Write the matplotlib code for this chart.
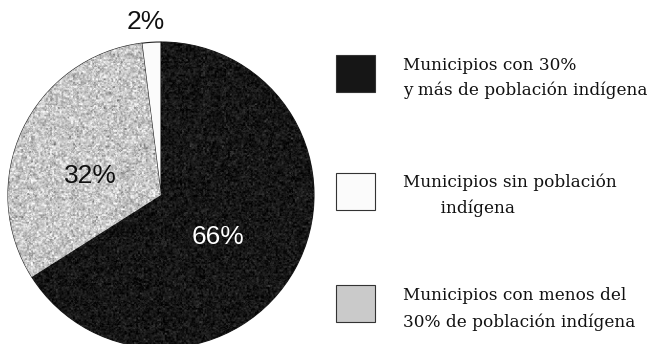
import numpy as np
import matplotlib
matplotlib.use("Agg")
import matplotlib.pyplot as plt
from matplotlib.patches import Rectangle

# shares of municipalities by indigenous population
shares = [66, 32, 2]
pct_labels = ["66%", "32%", "2%"]
legend_labels = [
    ["Municipios con 30%", "y más de población indígena"],
    ["Municipios con menos del", "30% de población indígena"],
    ["Municipios sin población", "       indígena"],
]
# legend order differs from slice order
legend_order = [0, 2, 1]

colors = ["#161616", "#cacaca", "#fbfbfb"]
label_colors = ["white", "#111111", "#111111"]

W, H = 654, 344
fig = plt.figure(figsize=(W / 100, H / 100), dpi=100)
ax = fig.add_axes([0, 0, 1, 1])

cx, cy, r = 161, H - 195, 153
wedges, _ = ax.pie(shares, colors=colors, startangle=90, counterclock=False,
                   center=(cx, cy), radius=r,
                   wedgeprops=dict(edgecolor="#222222", linewidth=0.8))
ax.set_xlim(0, W)
ax.set_ylim(0, H)
ax.set_aspect("equal")
ax.axis("off")

# grainy print texture on the shaded slices
rng = np.random.default_rng(7)
grain = rng.normal(0, 1, (160, 160)).repeat(2, 0).repeat(2, 1)
fine = rng.normal(0, 1, (320, 320))
grain = 0.6 * grain + 0.5 * fine
for w, base, amp in [(wedges[0], 0.09, 0.07), (wedges[1], 0.78, 0.14)]:
    tex = np.clip(base + amp * grain, 0, 1)
    im = ax.imshow(tex, cmap="gray", vmin=0, vmax=1, interpolation="bilinear",
                   extent=(cx - r, cx + r, cy - r, cy + r), zorder=1.5)
    im.set_clip_path(w)
ax.set_xlim(0, W)
ax.set_ylim(0, H)

# percentage labels
label_pos = [(218, H - 237), (90, H - 176), (146, H - 22)]
for txt, (x, y), c in zip(pct_labels, label_pos, label_colors):
    ax.text(x, y, txt, color=c, fontsize=19, family="Liberation Sans",
            ha="center", va="center", zorder=3)

# legend drawn by hand, one text line at a time
box_y = [H - 92, H - 210, H - 322]
line_y = [(70, 95), (187, 213), (300, 327)]
for k, i in enumerate(legend_order):
    ax.add_patch(Rectangle((336, box_y[k]), 39, 37, facecolor=colors[i],
                           edgecolor="#333333", linewidth=0.8, zorder=2))
    for line, y in zip(legend_labels[i], line_y[k]):
        ax.text(403, H - y, line, fontsize=12.2, family="DejaVu Serif",
                color="#111111", ha="left", va="baseline")

fig.savefig("out.png", dpi=100)
